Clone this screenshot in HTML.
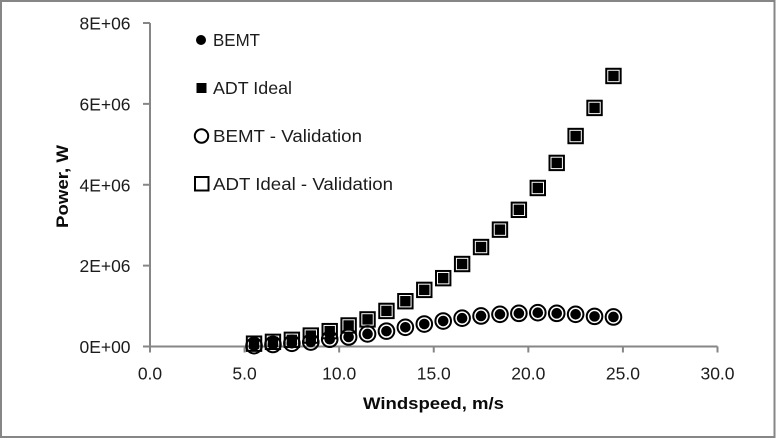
<!DOCTYPE html>
<html lang="en">
<head>
<meta charset="utf-8">
<title>Power vs Windspeed</title>
<style>
html,body{margin:0;padding:0;background:#fff;width:776px;height:439px;overflow:hidden}
svg{display:block;filter:blur(0.3px)}
text{font-family:"Liberation Sans",sans-serif;fill:#1c1c1c}
</style>
</head>
<body>
<svg id="chart" xmlns="http://www.w3.org/2000/svg" width="776" height="439" viewBox="0 0 776 439">
  <rect x="0" y="0" width="776" height="439" fill="#fff"/>
  <rect x="1" y="1" width="773.5" height="436" fill="#fff" stroke="#868686" stroke-width="2"/>
  <g id="axes"></g>
  <g id="series"></g>
  <text x="363" y="409" font-size="17" font-weight="700" textLength="141" lengthAdjust="spacingAndGlyphs" style="fill:#0a0a0a">Windspeed, m/s</text>
  <text transform="translate(68,228) rotate(-90)" font-size="17" font-weight="700" textLength="83" lengthAdjust="spacingAndGlyphs" style="fill:#0a0a0a">Power, W</text>
  <g>
    <g>
      <circle cx="201" cy="40" r="5" fill="#000"/>
      <text x="213" y="46" font-size="17.5" textLength="47" lengthAdjust="spacingAndGlyphs">BEMT</text>
    </g>
    <g>
      <rect x="196.5" y="83" width="10" height="10" fill="#000"/>
      <text x="213" y="94" font-size="17.5" textLength="79" lengthAdjust="spacingAndGlyphs">ADT Ideal</text>
    </g>
    <g>
      <circle cx="201.5" cy="136" r="6.7" fill="none" stroke="#000" stroke-width="2"/>
      <text x="213" y="142" font-size="17.5" textLength="149" lengthAdjust="spacingAndGlyphs">BEMT - Validation</text>
    </g>
    <g>
      <rect x="195" y="177" width="13.5" height="13.5" fill="none" stroke="#000" stroke-width="2"/>
      <text x="213" y="190" font-size="17.5" textLength="180" lengthAdjust="spacingAndGlyphs">ADT Ideal - Validation</text>
    </g>
  </g>
</svg>
<script>
const windspeed = [5.5,6.5,7.5,8.5,9.5,10.5,11.5,12.5,13.5,14.5,15.5,16.5,17.5,18.5,19.5,20.5,21.5,22.5,23.5,24.5];
const bemtPower = [20000,50000,80000,110000,180000,235000,310000,380000,475000,556000,630000,700000,755000,796000,820000,836000,820000,796000,745000,730000];
const adtPower = [70000,115000,165000,270000,380000,520000,670000,880000,1120000,1400000,1690000,2040000,2460000,2890000,3380000,3920000,4540000,5205000,5900000,6690000];
const bemtValidation = [20000,50000,80000,110000,180000,235000,310000,380000,475000,556000,630000,700000,755000,796000,820000,836000,820000,796000,745000,730000];
const adtValidation = [70000,115000,165000,270000,380000,520000,670000,880000,1120000,1400000,1690000,2040000,2460000,2890000,3380000,3920000,4540000,5205000,5900000,6690000];
const xTicks = [0,5,10,15,20,25,30];
const xTickLabels = ["0.0","5.0","10.0","15.0","20.0","25.0","30.0"];
const yTicks = [0,2000000,4000000,6000000,8000000];
const yTickLabels = ["0E+00","2E+06","4E+06","6E+06","8E+06"];

const NS = 'http://www.w3.org/2000/svg';
const xScale = v => 150 + (v / 30) * 567.5;
const yScale = v => 346.5 - (v / 8000000) * 323.5;
const axes = document.getElementById('axes');
const series = document.getElementById('series');

function make(tag, attrs, parent) {
  const el = document.createElementNS(NS, tag);
  for (const k in attrs) el.setAttribute(k, attrs[k]);
  parent.appendChild(el);
  return el;
}
const axisStyle = {stroke:'#868686', 'stroke-width':2, fill:'none'};

const xAxisLine = make('line', Object.assign({x1:xScale(0), x2:xScale(30), y1:yScale(0), y2:yScale(0)}, axisStyle), axes);


const yAxisLine = make('line', Object.assign({x1:xScale(0), x2:xScale(0), y1:yScale(0), y2:yScale(8000000)}, axisStyle), axes);



xTicks.forEach((t, i) => {
  const tick = make('line', Object.assign({x1:xScale(t), x2:xScale(t), y1:yScale(0), y2:yScale(0) + 6}, axisStyle), axes);
  
  
  const label = make('text', {x:xScale(t), y:379.5, 'font-size':17.5, 'text-anchor':'middle'}, axes);
  
  
  label.textContent = xTickLabels[i];
});
yTicks.forEach((t, i) => {
  const tick = make('line', Object.assign({x1:xScale(0) - 7, x2:xScale(0), y1:yScale(t), y2:yScale(t)}, axisStyle), axes);
  
  
  const label = make('text', {x:130.5, y:yScale(t) + 6.5, 'font-size':17.5, 'text-anchor':'end', textLength:51, lengthAdjust:'spacingAndGlyphs'}, axes);
  
  
  label.textContent = yTickLabels[i];
});

windspeed.forEach((w, i) => {
  const cx = xScale(w);
  const cy = yScale(bemtValidation[i]);
  const m = make('circle', {cx:cx, cy:cy, r:7.8, fill:'none', stroke:'#000', 'stroke-width':2}, series);
  
  
});
windspeed.forEach((w, i) => {
  const cx = xScale(w);
  const cy = yScale(bemtPower[i]);
  const m = make('circle', {cx:cx, cy:cy, r:5.3, fill:'#000'}, series);
  
  
});
windspeed.forEach((w, i) => {
  const cx = xScale(w);
  const cy = yScale(adtValidation[i]);
  const m = make('rect', {x:cx - 7.2, y:cy - 7.2, width:14.4, height:14.4, fill:'none', stroke:'#000', 'stroke-width':2}, series);
  
  
});
windspeed.forEach((w, i) => {
  const cx = xScale(w);
  const cy = yScale(adtPower[i]);
  const m = make('rect', {x:cx - 5.2, y:cy - 5.2, width:10.4, height:10.4, fill:'#000'}, series);
  
  
});
</script>
</body>
</html>
